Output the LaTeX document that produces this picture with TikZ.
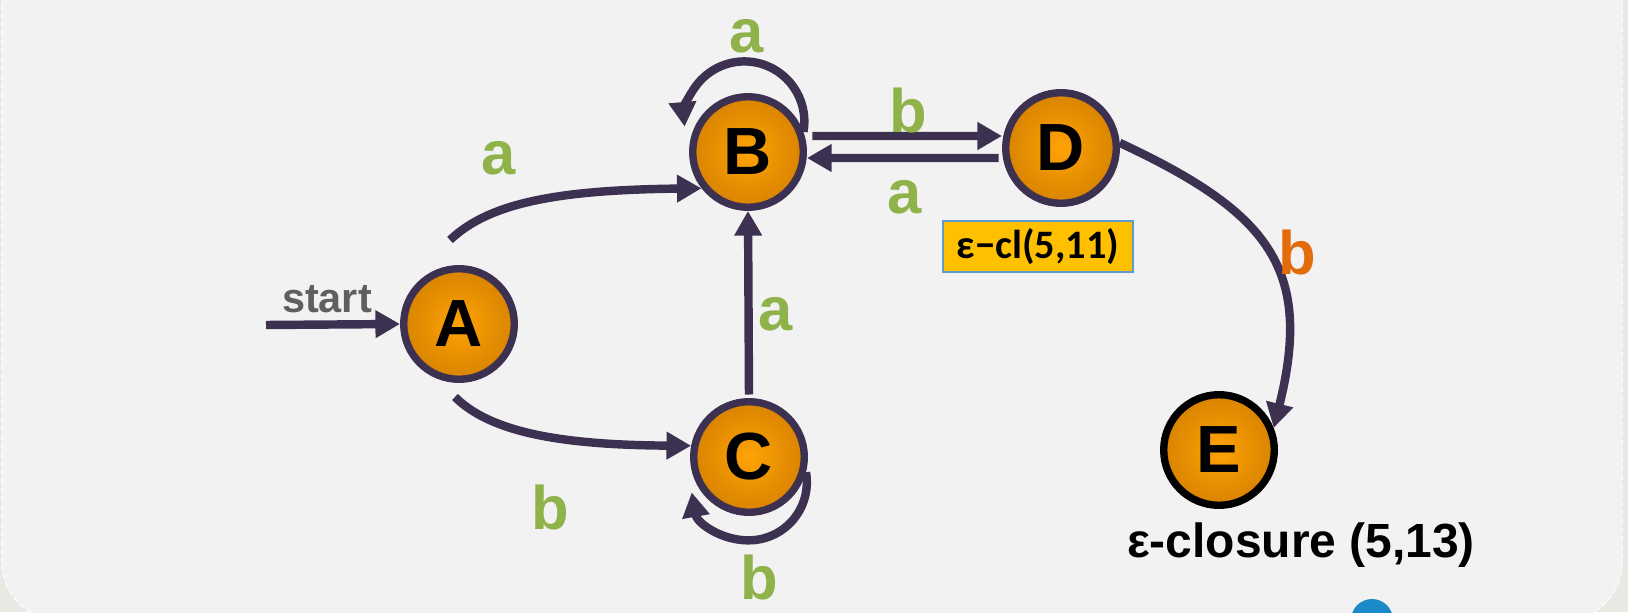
\documentclass[tikz,border=0pt]{standalone}
\usepackage{fontspec}
\setmainfont{Liberation Sans}
\newfontfamily\boxfont{Carlito}
\usetikzlibrary{arrows.meta,calc}
\definecolor{edgecol}{HTML}{3D3152}
\definecolor{lblgreen}{HTML}{8FB34A}
\definecolor{lblorange}{HTML}{E36C0A}
\definecolor{nodein}{HTML}{FFA305}
\definecolor{nodeout}{HTML}{D98300}
\definecolor{bgin}{HTML}{F2F2F2}
\definecolor{bgout}{HTML}{EAE8E3}
\definecolor{boxfill}{HTML}{FFC000}
\definecolor{boxline}{HTML}{5B9BD5}
\definecolor{startgray}{HTML}{5F5F5F}
\definecolor{logoblue}{HTML}{1B8AC8}
\begin{document}
\begin{tikzpicture}[x=0.02cm,y=0.02cm,
  state/.style={circle, minimum size=2.212cm, inner sep=0pt, draw=edgecol,
    line width=4.2pt, inner color=nodein, outer color=nodeout,
    font=\fontsize{38pt}{40pt}\selectfont\bfseries},
  edge/.style={draw=edgecol, line width=4.8pt, -{Triangle[length=14pt,width=15pt]}},
  lbl/.style={inner sep=0pt, text=lblgreen, font=\fontsize{35pt}{38pt}\selectfont\bfseries}]
\useasboundingbox (0,0) rectangle (1628,612);
\clip (0,0) rectangle (1628,612);
% background
\fill[bgout] (0,0) rectangle (1628,612);
\filldraw[fill=bgin, draw=white, line width=0.6pt, densely dashed, rounded corners=1.14cm]
  (2,-8) rectangle (1622,700);
\fill[logoblue] (1372,-8) circle[radius=0.42cm];
% nodes
\node[state] (A) at (459,288) {A};
\node[state] (B) at (748,460) {B};
\node[state] (C) at (749,155) {C};
\node[state] (D) at (1061,464) {D};
\node[state, draw=black] (E) at (1219,162) {E};
% start arrow
\coordinate (s0) at (266,287);
\draw[edge] (s0) -- (A.west);
\node[inner sep=0pt, text=startgray, font=\fontsize{23.6pt}{26pt}\selectfont\bfseries] (startlbl) at (327,313) {start};
% A -> B
\coordinate (ab0) at (450,372);
\draw[edge] (ab0) .. controls (490,410) and (560,422) .. (B.218);
% A -> C
\coordinate (ac0) at (455,215);
\draw[edge] (ac0) .. controls (490,180) and (560,167) .. (C.169);
% C -> B
\draw[edge, shorten <=2pt] (C.north) -- (B.south);
% B loop
\draw[edge] (B.20) arc[start angle=-10, end angle=185, radius=1.2cm];
% C loop
\draw[edge] (C.-15) arc[start angle=10, end angle=-170, radius=1.16cm];
% B <-> D
\draw[edge, shorten <=3pt] ([yshift=0.32cm]B.east) -- ([yshift=0.24cm]D.west);
\draw[edge, shorten <=2pt] ([yshift=-0.2cm]D.west) -- ([yshift=-0.12cm]B.east);
% D -> E
\draw[edge] (D.5) to[out=-25, in=76, looseness=1.3] (E.22);
% labels
\node[lbl] (lAB) at (499,454) {a};
\node[lbl] (lAC) at (550,104) {b};
\node[lbl] (lCB) at (776,298) {a};
\node[lbl] (lBB) at (747,576) {a};
\node[lbl] (lBD) at (908,501) {b};
\node[lbl] (lDB) at (905,415) {a};
\node[lbl] (lCC) at (759,34) {b};
\node[lbl, text=lblorange] (lDE) at (1297,359) {b};
\node[draw=boxline, line width=0.7pt, fill=boxfill, minimum width=3.8cm, minimum height=1.02cm,
  inner sep=0pt, font=\boxfont\bfseries\fontsize{23pt}{26pt}\selectfont] (box) at (1038,365.5) {ε−cl(5,11)};
\node[inner sep=0pt, font=\fontsize{27.3pt}{30pt}\selectfont\bfseries] (closure) at (1301,67) {ε-closure (5,13)};
\end{tikzpicture}
\end{document}
